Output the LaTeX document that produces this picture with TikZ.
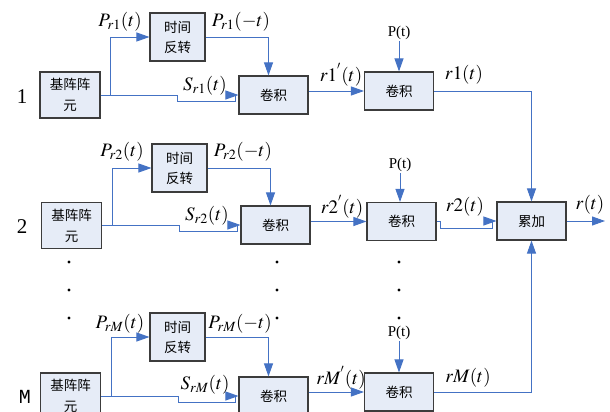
\documentclass[tikz,border=0pt]{standalone}
\usepackage{mathptmx}
\usepackage{fontspec}
\setmainfont{Liberation Serif}
\newfontfamily\cjk{Noto Sans CJK SC}
\newfontfamily\monofont{Liberation Mono}
\usetikzlibrary{calc,arrows.meta}
\definecolor{linkblue}{RGB}{68,114,196}
\definecolor{boxfill}{RGB}{230,236,247}
\definecolor{boxline}{RGB}{60,60,60}

\begin{document}
\begin{tikzpicture}[x=1pt,y=-1pt,
  box/.style={draw=boxline,fill=boxfill,line width=1.1pt,align=center,inner sep=0pt,
    font=\cjk\fontsize{13.5}{21}\selectfont},
  elem/.style={box,minimum width=60pt,minimum height=46pt},
  rev/.style={box,minimum width=55pt,minimum height=48pt,font=\cjk\fontsize{13.5}{20}\selectfont},
  conv/.style={box,minimum width=69pt,minimum height=38pt},
  wire/.style={draw=linkblue,line width=0.9pt,-{Triangle[length=13pt,width=9pt]}},
  sig/.style={inner sep=0pt,font=\fontsize{19}{22}\selectfont},
  ptag/.style={inner sep=1pt,font=\fontsize{15}{17}\selectfont},
  rowtag/.style={inner sep=0pt,font=\fontsize{21}{24}\selectfont}]
  \useasboundingbox (0,0) rectangle (610,412);

  % row 1
  \node[elem] (base1) at (70,95) {基阵阵\\元};
  \node[rev] (rev1) at (177.5,37) {时间\\反转};
  \node[conv] (convA1) at (273.5,95) {卷积};
  \node[conv] (convB1) at (399,91) {卷积};
  \node[ptag] (p1) at (399,33) {P(t)};
  % row 2
  \node[elem] (base2) at (71.5,225.5) {基阵阵\\元};
  \node[rev] (rev2) at (179.5,168) {时间\\反转};
  \node[conv] (convA2) at (275.5,225) {卷积};
  \node[conv] (convB2) at (401.5,221.5) {卷积};
  \node[ptag] (p2) at (400,165) {P(t)};
  \node[conv] (sum) at (531.5,221) {累加};
  % row M
  \node[elem] (baseM) at (70.5,396) {基阵阵\\元};
  \node[rev] (revM) at (177.5,337) {时间\\反转};
  \node[conv] (convAM) at (273.5,396) {卷积};
  \node[conv] (convBM) at (399,392) {卷积};
  \node[ptag] (pM) at (399,333) {P(t)};
  \coordinate (out) at (605,221);

  \node[rowtag] (n1) at (22,97) {1};
  \node[rowtag] (n2) at (22,227) {2};
  \node[rowtag,font=\monofont\fontsize{20}{22}\selectfont] (nM) at (25,397) {M};

  % branches and wires
  \foreach \k in {1,2,M} {
    \draw[wire] (base\k.east) -- ++(10,0) |- (rev\k.west);
    \draw[wire] (base\k.east) -- ++(77,0) -- ++(0,6) -| ($(convA\k.west)+(-3,0)$) -- (convA\k.west);
    \draw[wire] (rev\k.east) -| ($(convA\k.north)+(-5,0)$);
    \draw[wire] (convB\k.west -| convA\k.east) -- (convB\k.west);
    \draw[wire] (p\k.south) -- (p\k.south |- convB\k.north);
  }
  \draw[wire] (convB1.east) -| (sum.north);
  \draw[wire] (convBM.east) -| (sum.south);
  \draw[wire] (convB2.east) -- ++(4,0) |- ($(sum.west)+(-4,7)$) |- (sum.west);
  \draw[wire] (sum.east) -- (out);

  % labels
  \node[sig] (lp1) at (120,22) {$P_{r1}(t)$};
  \node[sig] (lq1) at (241,22) {$P_{r1}(-t)$};
  \node[sig] (ls1) at (205,86) {$S_{r1}(t)$};
  \node[sig] (la1) at (341,75) {$r1^{'}(t)$};
  \node[sig] (lb1) at (464,75) {$r1(t)$};
  \node[sig] (lp2) at (122,152) {$P_{r2}(t)$};
  \node[sig] (lq2) at (243,152) {$P_{r2}(-t)$};
  \node[sig] (ls2) at (207,216) {$S_{r2}(t)$};
  \node[sig] (la2) at (342,207) {$r2^{'}(t)$};
  \node[sig] (lb2) at (465,207) {$r2(t)$};
  \node[sig] (lr) at (590,205) {$r(t)$};
  \node[sig] (lpM) at (120,324) {$P_{rM}(t)$};
  \node[sig] (lqM) at (240,324) {$P_{rM}(-t)$};
  \node[sig] (lsM) at (205,385) {$S_{rM}(t)$};
  \node[sig] (laM) at (341,378) {$rM^{'}(t)$};
  \node[sig] (lbM) at (468,378) {$rM(t)$};

  % dots
  \foreach \x in {69,277,399}
    \foreach \y in {262,290,318}
      \fill (\x,\y) circle (1.6pt);
\end{tikzpicture}
\end{document}
